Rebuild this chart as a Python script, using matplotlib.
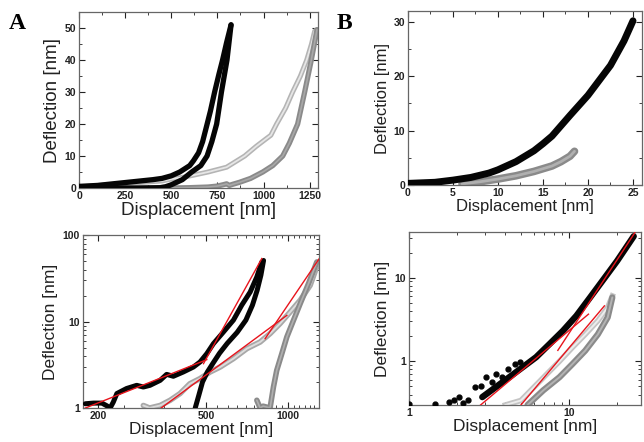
import matplotlib
matplotlib.use("Agg")
import matplotlib.pyplot as plt
from matplotlib.ticker import MultipleLocator, FixedLocator, NullFormatter, LogLocator, FuncFormatter

plt.rcParams['font.family'] = ['Liberation Sans', 'DejaVu Sans']

# ---------------- Panel A, linear ----------------
a_black_app_x = [0, 100, 200, 300, 400, 450, 500, 546, 600, 620, 648, 670, 690, 712, 735, 758, 778, 800, 824]
a_black_app_y = [0.5, 0.8, 1.4, 2.0, 2.6, 3.0, 3.8, 5.0, 7.0, 8.5, 11, 14.5, 19, 24, 30, 35.5, 40, 45.5, 51]
a_black_ret_x = [824, 802, 772, 746, 720, 694, 660, 611, 560, 500, 470, 440, 300, 150, 0]
a_black_ret_y = [51, 40, 30, 20, 14.5, 10, 7, 5, 2.6, 1.0, 0.4, 0.1, 0, 0, 0]
a_gray_app_x = [0, 200, 350, 450, 500, 560, 620, 700, 800, 898, 960, 1010, 1040, 1071, 1120, 1158, 1200, 1234, 1260, 1277, 1290]
a_gray_app_y = [0.3, 1.2, 1.8, 2.2, 2.8, 3.3, 4.0, 5.0, 6.5, 10, 13, 15.2, 16.5, 20, 25, 30, 35, 40, 45, 49, 49.5]
a_gray_ret_x = [1290, 1259, 1223, 1185, 1140, 1104, 1050, 996, 930, 871, 830, 815, 800, 780, 750, 700, 600, 500]
a_gray_ret_y = [49.5, 40, 30, 20, 14, 10, 7, 5, 3, 1.8, 1.1, 0.8, 1.3, 1.0, 0.6, 0.3, 0.1, 0]

# ---------------- Panel A, log ----------------
la_black_app_x = [180, 193, 207, 216, 222, 228, 235, 255, 278, 294, 311, 339, 358, 379, 412, 449, 475, 503, 532, 579, 630, 676, 726, 768, 801]
la_black_app_y = [1.12, 1.14, 1.14, 1.06, 1.0, 1.17, 1.47, 1.68, 1.83, 1.75, 1.83, 2.09, 2.45, 2.33, 2.61, 2.98, 3.41, 4.26, 5.56, 7.58, 10.4, 15.5, 22, 32.9, 49]
la_black_ret_x = [456, 470, 485, 505, 530, 560, 598, 650, 700, 740, 770, 795, 813]
la_black_ret_y = [1.0, 1.4, 2.0, 2.6, 3.3, 4.3, 5.6, 7.5, 10.4, 15.5, 23, 34.5, 51]
la_gray_app_x = [294, 310, 339, 369, 401, 436, 475, 517, 563, 630, 706, 790, 859, 935, 1018, 1109, 1206, 1294]
la_gray_app_y = [1.07, 1.0, 1.07, 1.23, 1.47, 1.91, 2.19, 2.61, 2.98, 3.73, 4.87, 5.81, 7.26, 9.5, 12.9, 17.7, 26.3, 49]
la_gray_ret_x = [768, 790, 810, 859, 884, 909, 949, 990, 1048, 1109, 1189, 1276]
la_gray_ret_y = [1.23, 1.0, 1.05, 1.0, 1.75, 2.73, 4.26, 6.64, 10.4, 16.2, 27.5, 49]
la_fit1_x, la_fit1_y = [180, 503], [1.0, 3.63]
la_fit2_x, la_fit2_y = [489, 801], [3.26, 53.7]
la_fit3_x, la_fit3_y = [339, 990], [0.98, 11.8]
la_fit4_x, la_fit4_y = [824, 1303], [6.35, 53.7]

# ---------------- Panel B, linear ----------------
b_black_x = [0, 3, 5, 7, 9, 10, 12, 14, 15, 16, 18, 20, 22.5, 24, 25]
b_black_y = [0.3, 0.5, 0.9, 1.4, 2.2, 2.8, 4.3, 6.3, 7.6, 9.0, 12.8, 16.5, 22, 26.5, 30.2]
b_gray_x = [6, 8, 10, 12, 14, 16, 17, 18, 18.5]
b_gray_y = [0.2, 0.6, 1.1, 1.7, 2.5, 3.5, 4.3, 5.3, 6.2]

# ---------------- Panel B, log ----------------
lb_black_sc_x = [1.0, 1.45, 1.78, 1.90, 2.04, 2.19, 2.34, 2.57, 2.82, 3.02, 3.31, 3.47, 3.80, 4.17, 4.57, 4.90]
lb_black_sc_y = [0.305, 0.305, 0.325, 0.347, 0.373, 0.316, 0.34, 0.49, 0.51, 0.645, 0.57, 0.70, 0.645, 0.81, 0.93, 0.97]
lb_black_x = [2.87, 3.48, 4.23, 5.13, 6.22, 7.55, 9.16, 11.1, 13.5, 16.4, 19.9, 25.3]
lb_black_y = [0.373, 0.49, 0.645, 0.85, 1.12, 1.61, 2.32, 3.5, 5.78, 9.56, 15.8, 31.3]
lb_gray_up_x = [4.0, 5.0, 6.03, 7.24, 8.7, 10.5, 12.6, 15.1, 17.4, 18.6]
lb_gray_up_y = [0.30, 0.34, 0.49, 0.70, 1.0, 1.47, 2.1, 3.05, 4.4, 6.05]
lb_gray_lo_x = [5.5, 6.9, 8.7, 10.5, 12.6, 15.1, 17.4, 18.6]
lb_gray_lo_y = [0.30, 0.45, 0.645, 0.93, 1.34, 2.1, 3.35, 5.8]
lb_fit1_x, lb_fit1_y = [2.8, 13.2], [0.30, 3.66]
lb_fit2_x, lb_fit2_y = [8.5, 25.7], [1.35, 34.5]
lb_fit3_x, lb_fit3_y = [5.0, 16.6], [0.30, 4.6]

BLACK = '#050505'
GRAY_D = '#8a8a8a'
GRAY_L = '#b4b4b4'
RED = '#e8141c'
SPINE = '#666666'


def black_line(ax, x, y, lw=3.8):
    ax.plot(x, y, color=BLACK, lw=lw, solid_capstyle='round', solid_joinstyle='round', zorder=3)


def hollow_line(ax, x, y, outer, inner, lw=4.0, ilw=1.4):
    ax.plot(x, y, color=outer, lw=lw, solid_capstyle='round', solid_joinstyle='round', zorder=2)
    ax.plot(x, y, color=inner, lw=ilw, solid_capstyle='round', solid_joinstyle='round', zorder=2)


def style(ax, label_size):
    for s in ax.spines.values():
        s.set_color(SPINE)
        s.set_linewidth(0.9)
    ax.tick_params(which='both', direction='in', top=True, right=True, colors='#222222')
    ax.tick_params(which='major', length=4, width=0.8, labelsize=7.5, pad=2)
    ax.tick_params(which='minor', length=2, width=0.6)
    for lab in ax.get_xticklabels() + ax.get_yticklabels():
        lab.set_fontweight('bold')
    ax.set_xlabel('Displacement [nm]', fontsize=label_size, labelpad=1, color='#222222')
    ax.set_ylabel('Deflection [nm]', fontsize=label_size, labelpad=3, color='#222222')


fig = plt.figure(figsize=(6.44, 4.42), dpi=100)

# Top-left: A linear
ax1 = fig.add_axes([0.1227, 0.5747, 0.371, 0.398])
hollow_line(ax1, a_gray_app_x, a_gray_app_y, GRAY_L, '#e6e6e6', lw=3.6, ilw=1.3)
hollow_line(ax1, a_gray_ret_x, a_gray_ret_y, GRAY_D, '#a8a8a8', lw=3.8, ilw=1.2)
black_line(ax1, a_black_ret_x, a_black_ret_y)
black_line(ax1, a_black_app_x, a_black_app_y)
ax1.set_xlim(0, 1295)
ax1.set_ylim(0, 55)
ax1.xaxis.set_major_locator(MultipleLocator(250))
ax1.xaxis.set_minor_locator(MultipleLocator(125))
ax1.yaxis.set_major_locator(MultipleLocator(10))
ax1.yaxis.set_minor_locator(MultipleLocator(5))
style(ax1, 13.5)

# Top-right: B linear
ax2 = fig.add_axes([0.6335, 0.5814, 0.3634, 0.3937])
hollow_line(ax2, b_gray_x, b_gray_y, GRAY_D, '#b0b0b0', lw=5.5, ilw=2.0)
black_line(ax2, b_black_x, b_black_y, lw=5.0)
ax2.set_xlim(0, 26)
ax2.set_ylim(0, 32)
ax2.xaxis.set_major_locator(MultipleLocator(5))
ax2.xaxis.set_minor_locator(MultipleLocator(2.5))
ax2.yaxis.set_major_locator(MultipleLocator(10))
ax2.yaxis.set_minor_locator(MultipleLocator(5))
style(ax2, 12)

plain = FuncFormatter(lambda v, p: '%g' % v)

# Bottom-left: A log
ax3 = fig.add_axes([0.1284, 0.0769, 0.367, 0.391])
hollow_line(ax3, la_gray_app_x, la_gray_app_y, '#a8a8a8', '#dcdcdc', lw=4.0, ilw=1.4)
hollow_line(ax3, la_gray_ret_x, la_gray_ret_y, GRAY_D, '#b0b0b0', lw=4.0, ilw=1.2)
black_line(ax3, la_black_ret_x, la_black_ret_y, lw=3.6)
black_line(ax3, la_black_app_x, la_black_app_y, lw=3.6)
for fx, fy in [(la_fit1_x, la_fit1_y), (la_fit2_x, la_fit2_y), (la_fit3_x, la_fit3_y), (la_fit4_x, la_fit4_y)]:
    ax3.plot(fx, fy, color=RED, lw=1.0, zorder=4)
ax3.set_xscale('log')
ax3.set_yscale('log')
ax3.set_xlim(176, 1300)
ax3.set_ylim(1, 100)
ax3.xaxis.set_major_locator(FixedLocator([200, 500, 1000]))
ax3.xaxis.set_major_formatter(plain)
ax3.xaxis.set_minor_locator(FixedLocator(list(range(200, 1300, 50))))
ax3.xaxis.set_minor_formatter(NullFormatter())
ax3.yaxis.set_major_locator(FixedLocator([1, 10, 100]))
ax3.yaxis.set_major_formatter(plain)
ax3.yaxis.set_minor_locator(LogLocator(base=10, subs=range(2, 10)))
ax3.yaxis.set_minor_formatter(NullFormatter())
style(ax3, 12.5)

# Bottom-right: B log
ax4 = fig.add_axes([0.635, 0.0837, 0.360, 0.391])
ax4.plot(lb_gray_up_x, lb_gray_up_y, color='#c4c4c4', lw=4.0, zorder=2)
ax4.plot(lb_gray_up_x, lb_gray_up_y, color='#ededed', lw=1.4, zorder=2)
hollow_line(ax4, lb_gray_lo_x, lb_gray_lo_y, GRAY_D, '#b3b3b3', lw=4.5, ilw=1.4)
ax4.plot(lb_black_sc_x, lb_black_sc_y, 'o', color=BLACK, ms=3.5, zorder=3)
black_line(ax4, lb_black_x, lb_black_y, lw=4.6)
for fx, fy in [(lb_fit1_x, lb_fit1_y), (lb_fit2_x, lb_fit2_y), (lb_fit3_x, lb_fit3_y)]:
    ax4.plot(fx, fy, color=RED, lw=1.0, zorder=4)
ax4.set_xscale('log')
ax4.set_yscale('log')
ax4.set_xlim(1, 28)
ax4.set_ylim(0.30, 35)
ax4.xaxis.set_major_locator(FixedLocator([1, 10]))
ax4.xaxis.set_major_formatter(plain)
ax4.xaxis.set_minor_locator(LogLocator(base=10, subs=range(2, 10)))
ax4.xaxis.set_minor_formatter(NullFormatter())
ax4.yaxis.set_major_locator(FixedLocator([1, 10]))
ax4.yaxis.set_major_formatter(plain)
ax4.yaxis.set_minor_locator(LogLocator(base=10, subs=range(2, 10)))
ax4.yaxis.set_minor_formatter(NullFormatter())
style(ax4, 12.5)

fig.text(0.013, 0.935, 'A', fontsize=17, fontweight='bold', family='Liberation Serif')
fig.text(0.523, 0.935, 'B', fontsize=17, fontweight='bold', family='Liberation Serif')

fig.savefig('out.png', dpi=100)
